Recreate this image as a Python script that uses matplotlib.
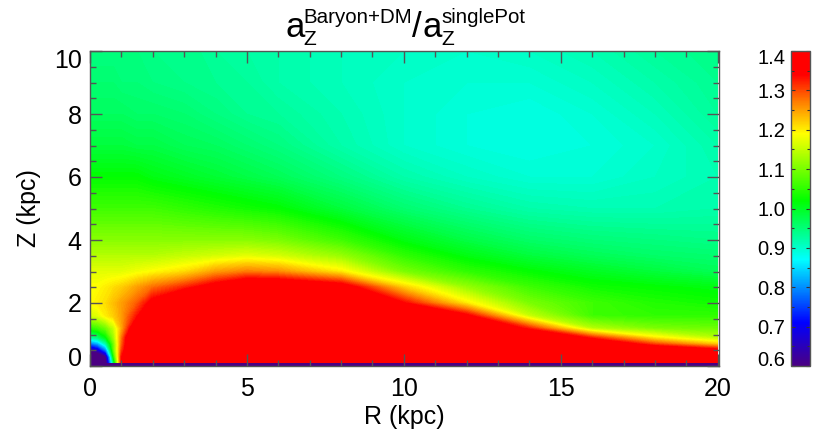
import numpy as np
import matplotlib
matplotlib.use('Agg')
import matplotlib.pyplot as plt
from matplotlib.cm import ScalarMappable
from matplotlib.colors import LinearSegmentedColormap, Normalize
from matplotlib.ticker import FixedLocator, MultipleLocator
from matplotlib.transforms import ScaledTranslation

plt.rcParams['font.family'] = ['Liberation Sans', 'DejaVu Sans']

# values, red area and purple hole run past the colour range
r_kpc = [0, 0.25, 0.5, 0.75, 1, 1.5, 2, 3, 4, 5, 6, 8, 10, 12, 14, 16, 18, 20]
z_kpc = [0.1, 0.3, 0.5, 0.7, 0.9, 1.2, 1.6, 2, 2.5, 3, 3.5, 4, 5, 6, 7, 8, 9, 10]
ratio = [
    [.50, .50, .55, .96, 1.34, 1.50, 1.50, 1.50, 1.50, 1.50, 1.50, 1.50, 1.50, 1.50, 1.50, 1.50, 1.50, 1.50],
    [.50, .50, .60, 1.03, 1.33, 1.50, 1.50, 1.50, 1.50, 1.50, 1.50, 1.50, 1.50, 1.50, 1.50, 1.50, 1.50, 1.50],
    [.60, .66, .78, 1.08, 1.30, 1.50, 1.50, 1.50, 1.50, 1.50, 1.50, 1.50, 1.50, 1.50, 1.50, 1.50, 1.42, 1.36],
    [.77, .81, .91, 1.09, 1.28, 1.50, 1.50, 1.50, 1.50, 1.50, 1.50, 1.50, 1.50, 1.50, 1.50, 1.42, 1.30, 1.22],
    [.92, .95, 1.01, 1.12, 1.27, 1.50, 1.50, 1.50, 1.50, 1.50, 1.50, 1.50, 1.50, 1.50, 1.45, 1.32, 1.20, 1.14],
    [1.04, 1.06, 1.09, 1.15, 1.24, 1.41, 1.50, 1.50, 1.50, 1.50, 1.50, 1.50, 1.50, 1.46, 1.32, 1.14, 1.10, 1.09],
    [1.16, 1.17, 1.20, 1.22, 1.25, 1.33, 1.45, 1.50, 1.50, 1.50, 1.50, 1.50, 1.42, 1.35, 1.15, 1.06, 1.05, 1.05],
    [1.19, 1.20, 1.21, 1.23, 1.25, 1.29, 1.36, 1.45, 1.50, 1.50, 1.50, 1.46, 1.34, 1.20, 1.10, 1.06, 1.04, 1.03],
    [1.19, 1.19, 1.20, 1.21, 1.22, 1.25, 1.28, 1.32, 1.37, 1.42, 1.42, 1.38, 1.22, 1.12, 1.06, 1.03, 1.02, 1.01],
    [1.17, 1.17, 1.17, 1.17, 1.17, 1.18, 1.19, 1.21, 1.25, 1.27, 1.26, 1.20, 1.10, 1.05, 1.02, 1.00, .985, .97],
    [1.14, 1.14, 1.14, 1.14, 1.14, 1.14, 1.14, 1.15, 1.16, 1.17, 1.16, 1.12, 1.05, 1.01, .985, .97, .96, .955],
    [1.11, 1.11, 1.11, 1.11, 1.11, 1.11, 1.11, 1.11, 1.11, 1.11, 1.10, 1.06, 1.01, .98, .96, .95, .945, .94],
    [1.06, 1.06, 1.06, 1.06, 1.06, 1.06, 1.06, 1.05, 1.04, 1.03, 1.02, .985, .955, .935, .92, .915, .915, .92],
    [1.02, 1.02, 1.02, 1.02, 1.02, 1.02, 1.01, 1.00, .99, .98, .97, .945, .92, .905, .895, .895, .905, .915],
    [.985, .985, .985, .985, .985, .98, .98, .97, .965, .955, .945, .92, .90, .89, .885, .89, .90, .92],
    [.965, .965, .965, .965, .965, .96, .96, .955, .945, .935, .93, .915, .90, .89, .885, .895, .91, .93],
    [.955, .955, .955, .955, .95, .95, .945, .94, .935, .93, .92, .91, .90, .895, .895, .905, .92, .935],
    [.945, .945, .945, .945, .945, .945, .94, .94, .93, .925, .92, .91, .905, .90, .905, .915, .93, .94],
]
# the lowest row of cells, Z below 0.1, is purple all the way along
midplane_ratio = [0.6] * (len(r_kpc) - 1)
midplane_edges = [0, 0.1]

x_ticks = [0, 5, 10, 15, 20]
y_ticks = [0, 2, 4, 6, 8, 10]
cbar_ticks = [0.6, 0.7, 0.8, 0.9, 1.0, 1.1, 1.2, 1.3, 1.4]

vmin, vmax = 0.6, 1.4
nodes = [0.6, 0.71, 0.87, 1.02, 1.19, 1.27, 1.34, 1.4]
colours = ['#4b0082', '#0000ff', '#00ffff', '#00ff00', '#ffff00', '#ff8000', '#ff0000', '#ff0000']
rainbow = LinearSegmentedColormap.from_list(
    'idl_rainbow', [((n - vmin) / (vmax - vmin), c) for n, c in zip(nodes, colours)], N=512)
norm = Normalize(vmin, vmax)


def desloca_label(label, fig, dy_px):
    # IDL pushes the end labels inwards
    label.set_transform(label.get_transform() + ScaledTranslation(0, dy_px / fig.dpi, fig.dpi_scale_trans))


W, H = 830, 434
fig = plt.figure(figsize=(W / 100, H / 100), dpi=100)
ax = fig.add_axes([90 / W, (H - 366) / H, 629 / W, 315 / H])
frame = '#555555'

levels = np.linspace(vmin, vmax, 161)
ax.contourf(r_kpc, z_kpc, np.array(ratio), levels=levels, cmap=rainbow, norm=norm, extend='both')
ax.pcolormesh(r_kpc, midplane_edges, np.array([midplane_ratio]), cmap=rainbow, norm=norm, shading='flat')
ax.set_xlim(0, 20.04)
ax.set_ylim(0, 10)

ax.xaxis.set_major_locator(FixedLocator(x_ticks))
ax.yaxis.set_major_locator(FixedLocator(y_ticks))
ax.xaxis.set_minor_locator(MultipleLocator(1))
ax.yaxis.set_minor_locator(MultipleLocator(0.5))
ax.tick_params(which='both', direction='in', top=True, right=True, color=frame, width=1)
ax.tick_params(which='major', length=8.6, labelsize=18)
ax.tick_params(axis='x', which='major', pad=8)
ax.tick_params(axis='y', which='major', pad=6)
ax.tick_params(which='minor', length=4.3)
for s in ax.spines.values():
    s.set_color(frame)
    s.set_linewidth(1)
fig.canvas.draw()
ylabels = ax.get_yticklabels()
desloca_label(ylabels[0], fig, 9)
desloca_label(ylabels[-1], fig, -7)

fig.text(404 / W, 1 - 417 / H, 'R (kpc)', fontsize=18, ha='center', va='center')
fig.text(29 / W, 1 - 208 / H, 'Z (kpc)', fontsize=18, ha='center', va='center', rotation=90)

# title pieces, IDL sets the scripts smaller than mathtext would
fig.text(285 / W, 1 - 37 / H, 'a', fontsize=25, va='baseline')
fig.text(303 / W, 1 - 45 / H, 'Z', fontsize=15, va='baseline')
fig.text(303 / W, 1 - 23 / H, 'Baryon+DM', fontsize=14.8, va='baseline')
fig.text(412 / W, 1 - 37 / H, '/', fontsize=25, va='baseline')
fig.text(423 / W, 1 - 37 / H, 'a', fontsize=25, va='baseline')
fig.text(441 / W, 1 - 45 / H, 'Z', fontsize=15, va='baseline')
fig.text(441 / W, 1 - 23 / H, 'singlePot', fontsize=14.8, va='baseline')

cax = fig.add_axes([791 / W, (H - 366) / H, 19 / W, 315 / H])
cb = fig.colorbar(ScalarMappable(norm=norm, cmap=rainbow), cax=cax)
cb.outline.set_edgecolor(frame)
cb.outline.set_linewidth(1)
cb.set_ticks(cbar_ticks)
cb.set_ticklabels([f'{t:.1f}' for t in cbar_ticks])
cax.yaxis.set_minor_locator(MultipleLocator(0.05))
cax.tick_params(which='both', direction='in', left=True, right=True, labelleft=True, labelright=False,
                color='#333333', width=0.8)
cax.tick_params(which='major', length=3, labelsize=14.5, pad=4)
cax.tick_params(which='minor', length=2)
fig.canvas.draw()
clabels = cax.get_yticklabels()
desloca_label(clabels[0], fig, 7)
desloca_label(clabels[-1], fig, -5)

fig.savefig('out.png', dpi=100)
